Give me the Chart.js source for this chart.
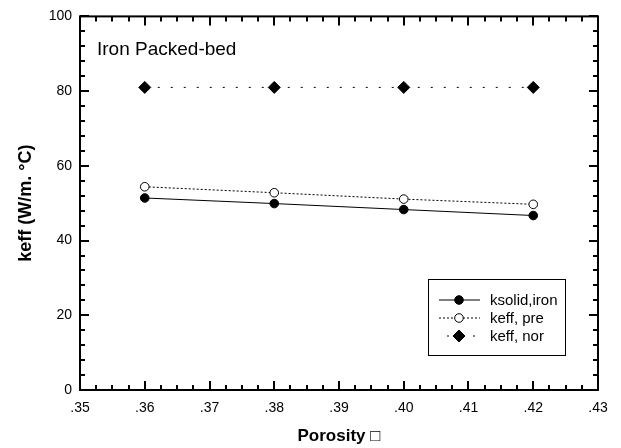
<!DOCTYPE html>
<html>
<head>
<meta charset="utf-8">
<script src="https://cdn.jsdelivr.net/npm/chart.js@4/dist/chart.umd.min.js"></script>
<style>
  html, body { margin: 0; padding: 0; background: #fff; }
  #wrap { width: 621px; height: 448px; }
</style>
</head>
<body>
<div id="wrap"><canvas id="chart" width="621" height="448"></canvas></div>
<script>
// Données
const porosity = [0.36, 0.38, 0.40, 0.42];
const ksolidIron = [51.4, 49.9, 48.3, 46.7];
const keffPre = [54.4, 52.8, 51.1, 49.7];
const keffNor = [81.0, 81.0, 81.0, 81.0];
const seriesNames = ['ksolid,iron', 'keff, pre', 'keff, nor'];
const xTickLabels = ['.35', '.36', '.37', '.38', '.39', '.40', '.41', '.42', '.43'];
const yTickLabels = ['0', '20', '40', '60', '80', '100'];

const FONT = 'Liberation Sans, Arial, sans-serif';

function toPoints(values) {
    return porosity.map((x, i) => ({ x: x, y: values[i] }));
}

// Cadre et graduations vers l'intérieur sur les quatre côtés
const framePlugin = {
    id: 'frame',
    afterDatasetsDraw(chart) {
        const { ctx, chartArea: a, scales } = chart;
        ctx.save();
        ctx.strokeStyle = '#000';
        ctx.lineWidth = 2;
        ctx.strokeRect(a.left, a.top, a.right - a.left, a.bottom - a.top);

        ctx.beginPath();
        for (let i = 0; i <= 32; i++) {
            const px = Math.round(scales.x.getPixelForValue(0.35 + i * 0.0025));
            const len = i % 4 === 0 ? 9 : 5;
            ctx.moveTo(px, a.bottom);
            ctx.lineTo(px, a.bottom - len);
            ctx.moveTo(px, a.top);
            ctx.lineTo(px, a.top + len);
        }
        for (let i = 0; i <= 25; i++) {
            const v = i * 4;
            const py = Math.round(scales.y.getPixelForValue(v));
            const len = v % 20 === 0 ? 9 : 5;
            ctx.moveTo(a.left, py);
            ctx.lineTo(a.left + len, py);
            ctx.moveTo(a.right, py);
            ctx.lineTo(a.right - len, py);
        }
        ctx.stroke();

        // Étiquette dans le graphe
        ctx.fillStyle = '#000';
        ctx.font = '19px ' + FONT;
        ctx.textBaseline = 'alphabetic';
        ctx.textAlign = 'left';
        ctx.fillText('Iron Packed-bed', a.left + 17, a.top + 39);
        ctx.restore();
    }
};

// Légende dessinée dans la zone du graphe
function drawMarker(ctx, ds, x, y) {
    ctx.save();
    ctx.setLineDash([]);
    ctx.lineWidth = 1;
    ctx.strokeStyle = '#000';
    ctx.fillStyle = ds.pointBackgroundColor;
    ctx.beginPath();
    if (ds.pointStyle === 'rectRot') {
        const r = ds.pointRadius;
        ctx.moveTo(x, y - r);
        ctx.lineTo(x + r, y);
        ctx.lineTo(x, y + r);
        ctx.lineTo(x - r, y);
        ctx.closePath();
    } else {
        ctx.arc(x, y, ds.pointRadius, 0, Math.PI * 2);
    }
    ctx.fill();
    ctx.stroke();
    ctx.restore();
}

const legendPlugin = {
    id: 'boxLegend',
    afterDraw(chart) {
        const { ctx, chartArea: a } = chart;
        const left = a.right - 170, top = a.bottom - 111;
        const width = 137, height = 76;
        ctx.save();
        ctx.fillStyle = '#fff';
        ctx.fillRect(left, top, width, height);
        ctx.strokeStyle = '#000';
        ctx.lineWidth = 1;
        ctx.strokeRect(left + 0.5, top + 0.5, width, height);

        ctx.font = '15px ' + FONT;
        ctx.textBaseline = 'middle';
        ctx.fillStyle = '#000';
        chart.data.datasets.forEach((ds, i) => {
            const y = top + 21 + i * 18;
            const x0 = left + 11, x1 = left + 52, xm = left + 31;
            ctx.beginPath();
            ctx.setLineDash(ds.borderDash || []);
            ctx.lineDashOffset = ds.legendDashOffset || 0;
            ctx.lineWidth = ds.borderWidth;
            ctx.moveTo(x0, y);
            ctx.lineTo(x1, y);
            ctx.stroke();
            drawMarker(ctx, ds, xm, y);
            ctx.fillText(ds.label, left + 62, y + 1);
        });
        ctx.restore();
    }
};

const ctx = document.getElementById('chart').getContext('2d');
new Chart(ctx, {
    type: 'line',
    data: {
        datasets: [
            {
                label: seriesNames[0],
                data: toPoints(ksolidIron),
                borderColor: '#000',
                borderWidth: 1,
                pointStyle: 'circle',
                pointRadius: 4.3,
                pointBackgroundColor: '#000',
                pointBorderColor: '#000',
                pointBorderWidth: 1
            },
            {
                label: seriesNames[1],
                data: toPoints(keffPre),
                borderColor: '#000',
                borderWidth: 1,
                borderDash: [2, 2],
                pointStyle: 'circle',
                pointRadius: 4.3,
                pointBackgroundColor: '#fff',
                pointBorderColor: '#000',
                pointBorderWidth: 1
            },
            {
                label: seriesNames[2],
                data: toPoints(keffNor),
                borderColor: '#000',
                borderWidth: 1,
                borderDash: [2, 11],
                legendDashOffset: -8,
                pointStyle: 'rectRot',
                pointRadius: 6,
                pointBackgroundColor: '#000',
                pointBorderColor: '#000',
                pointBorderWidth: 1
            }
        ]
    },
    options: {
        responsive: false,
        animation: false,
        layout: { padding: { top: 16, right: 23, left: 0, bottom: 0 } },
        plugins: {
            legend: { display: false },
            tooltip: { enabled: false }
        },
        scales: {
            x: {
                type: 'linear',
                min: 0.35,
                max: 0.43,
                afterFit(scale) { scale.height = 58; },
                grid: { display: false, drawTicks: false },
                border: { display: false },
                ticks: {
                    stepSize: 0.01,
                    padding: 10,
                    color: '#000',
                    font: { family: FONT, size: 14 },
                    maxRotation: 0,
                    autoSkip: false,
                    callback: (v, i) => xTickLabels[i]
                },
                title: {
                    display: true,
                    text: 'Porosity \u25A1',
                    color: '#000',
                    font: { family: FONT, size: 17, weight: 'bold' },
                    padding: { top: 0, bottom: 1 }
                }
            },
            y: {
                min: 0,
                max: 100,
                afterFit(scale) { scale.width = 80; },
                grid: { display: false, drawTicks: false },
                border: { display: false },
                ticks: {
                    stepSize: 20,
                    padding: 8,
                    color: '#000',
                    font: { family: FONT, size: 14 },
                    callback: (v, i) => yTickLabels[i]
                },
                title: {
                    display: true,
                    text: 'keff (W/m. \u00B0C)',
                    color: '#000',
                    font: { family: FONT, size: 18, weight: 'bold' },
                    padding: { top: 15, bottom: 0 }
                }
            }
        }
    },
    plugins: [framePlugin, legendPlugin]
});
</script>
</body>
</html>
